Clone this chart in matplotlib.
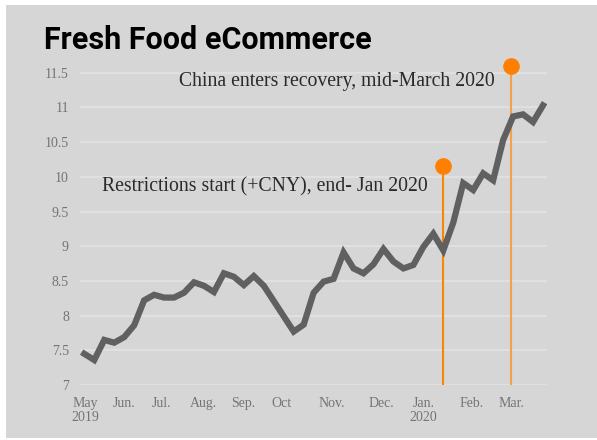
import matplotlib
matplotlib.use("Agg")
import matplotlib.pyplot as plt
from matplotlib.patches import Rectangle

# weekly index values, May 2019 - end of March 2020
values = [7.45, 7.36, 7.65, 7.61, 7.69, 7.86, 8.22, 8.30, 8.26, 8.26,
          8.33, 8.48, 8.43, 8.34, 8.61, 8.56, 8.44, 8.57, 8.43, 8.21,
          7.99, 7.77, 7.87, 8.33, 8.49, 8.53, 8.91, 8.68, 8.61, 8.74,
          8.96, 8.78, 8.68, 8.73, 8.99, 9.18, 8.94, 9.34, 9.91, 9.81,
          10.05, 9.95, 10.53, 10.87, 10.90, 10.79, 11.03]
weeks = list(range(len(values)))

month_pos = [0.1, 4.0, 7.7, 11.9, 15.9, 19.8, 24.8, 29.8, 34.0, 38.8, 42.8]
month_labels = ["May\n2019", "Jun.", "Jul.", "Aug.", "Sep.", "Oct", "Nov.",
                "Dec.", "Jan.\n2020", "Feb.", "Mar."]
y_ticks = [7, 7.5, 8, 8.5, 9, 9.5, 10, 10.5, 11, 11.5]
y_labels = ["7", "7.5", "8", "8.5", "9", "9.5", "10", "10.5", "11", "11.5"]

# event markers: week position and stem height
event_x = [36.0, 42.75]
event_y = [10.15, 11.60]
event_colors = ["#ff8400", "#f5a04a"]
event_text = ["Restrictions start (+CNY), end- Jan 2020",
              "China enters recovery, mid-March 2020"]

fig = plt.figure(figsize=(5.97, 4.40), dpi=100)
fig.patch.set_facecolor("white")
fig.add_artist(Rectangle((6 / 597, 2 / 440), 1, 433 / 440,
                         transform=fig.transFigure, facecolor="#d6d6d6",
                         edgecolor="none", zorder=-10))

ax = fig.add_axes([80 / 597, 55 / 440, 467 / 597, 329.6 / 440])
ax.set_facecolor("none")
ax.set_xlim(-0.43, 46.4)
ax.set_ylim(7, 11.75)

ax.set_yticks(y_ticks)
ax.set_yticklabels(y_labels)
ax.set_xticks(month_pos)
ax.set_xticklabels(month_labels, linespacing=1.1)
for s in ax.spines.values():
    s.set_visible(False)
ax.tick_params(length=0, labelsize=10, labelcolor="#747474")
ax.tick_params(axis="y", pad=8)
ax.tick_params(axis="x", pad=8.5)
for lbl in ax.get_xticklabels() + ax.get_yticklabels():
    lbl.set_family("Liberation Serif")
ax.yaxis.grid(True, color="#e3e3e3", linewidth=1.2)
ax.set_axisbelow(True)

ax.plot(weeks, values, color="#606060", linewidth=4.5,
        solid_joinstyle="miter", zorder=3)

for x, y, c in zip(event_x, event_y, event_colors):
    ax.vlines(x, 7, y, color=c, linewidth=1.5, zorder=2)
    ax.plot(x, y, "o", color="#ff8000", markersize=11, clip_on=False, zorder=4)

ax.text(18.07, 9.86, event_text[0], ha="center", va="center",
        fontsize=14.2, family="Liberation Serif", color="#2a2a2a")
ax.text(25.29, 11.37, event_text[1], ha="center", va="center",
        fontsize=14.2, family="Liberation Serif", color="#2a2a2a")

fig.text(44 / 597, 1 - 40 / 440, "Fresh Food eCommerce", ha="left",
         va="center", fontsize=22, fontweight="bold",
         family="Roboto", color="black")

fig.savefig("out.png", dpi=100)
